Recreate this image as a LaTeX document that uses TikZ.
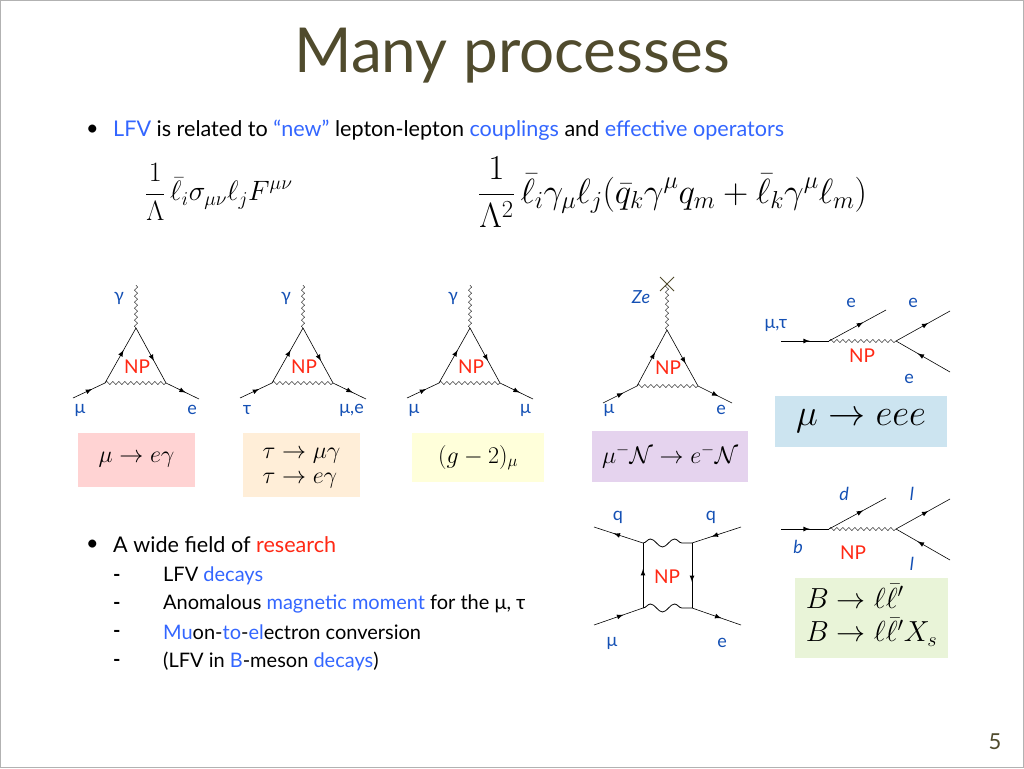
\documentclass[tikz,border=0pt]{standalone}
\usepackage{fix-cm}
\usepackage{fontspec}
\setmainfont{Lato}
\usetikzlibrary{decorations.pathmorphing,decorations.markings}
\definecolor{ttl}{RGB}{80,75,45}
\definecolor{lb}{RGB}{51,102,255}
\definecolor{db}{RGB}{20,80,180}
\definecolor{nr}{RGB}{255,40,20}
\tikzset{
 fer/.style={semithick,postaction={decorate},decoration={markings,mark=at position 0.6 with {\arrow[scale=1.4]{latex}}}},
 pho/.style={decorate,decoration={snake,amplitude=1.6pt,segment length=6pt},thin},
 bigpho/.style={thick,decorate,decoration={snake,amplitude=4pt,segment length=24pt}},
 lab/.style={text=db,font=\fontsize{18}{18}\selectfont,inner sep=0},
 np/.style={text=nr,font=\fontsize{19}{19}\selectfont,inner sep=0},
 bx/.style={minimum height=#1,inner sep=0,font=\fontsize{24}{28}\selectfont},
 txt/.style={anchor=west,inner sep=0,font=\fontsize{21.6}{21.6}\selectfont},
 stxt/.style={anchor=west,inner sep=0,font=\fontsize{20}{20}\selectfont},
}
\begin{document}
\begin{tikzpicture}[x=1pt,y=-1pt]
\useasboundingbox (0,0) rectangle (1024,768);
\draw[gray!60] (0.5,0.5) rectangle (1023.5,767.5);
\node[text=ttl,font=\fontsize{62}{62}\selectfont] (title) at (512,56) {Many processes};
\node[txt] (b1) at (86,130) {•};
\node[txt] (l1) at (113,130) {\textcolor{lb}{LFV} is related to \textcolor{lb}{“new”} lepton-lepton \textcolor{lb}{couplings} and \textcolor{lb}{effective operators}};
\node[anchor=west,inner sep=0,font=\fontsize{28}{28}\selectfont] (f1) at (145,192) {$\displaystyle\frac{1}{\Lambda}\,\bar\ell_i\sigma_{\mu\nu}\ell_jF^{\mu\nu}$};
\node[anchor=west,inner sep=0,font=\fontsize{35}{35}\selectfont] (f2) at (478,192) {$\displaystyle\frac{1}{\Lambda^2}\,\bar\ell_i\gamma_\mu\ell_j(\bar q_k\gamma^\mu q_m+\bar\ell_k\gamma^\mu\ell_m)$};
% triangles
\foreach \dx/\p/\ml/\rl in {0/A/{μ}/e, 167/B/{τ}/{μ,e}, 334/C/{μ}/{μ}}{
 \begin{scope}[xshift=\dx]
 \coordinate (\p t) at (136,328); \coordinate (\p l) at (105,383); \coordinate (\p r) at (166,383);
 \coordinate (\p a) at (73,398); \coordinate (\p b) at (199,399); \coordinate (\p g) at (136,285);
 \draw[fer] (\p a) -- (\p l); \draw[fer] (\p r) -- (\p b);
 \draw[fer] (\p l) -- (\p t); \draw[fer] (\p t) -- (\p r);
 \draw[pho] (\p l) -- (\p r); \draw[pho] (\p t) -- (\p g);
 \node[np] (\p np) at (137,367) {NP};
 \node[lab] (\p lg) at (119,298) {γ};
 \node[lab] (\p lm) at (80,410) {\ml};
 \node[lab,anchor=east] (\p le) at (197,410) {\rl};
 \end{scope}}
% conversion
\coordinate (Dt) at (667,330); \coordinate (Dl) at (637,386); \coordinate (Dr) at (698,386);
\coordinate (Da) at (603,403); \coordinate (Db) at (732,403); \coordinate (Dg) at (667,284);
\draw[fer] (Da) -- (Dl); \draw[fer] (Dr) -- (Db);
\draw[fer] (Dl) -- (Dt); \draw[fer] (Dt) -- (Dr);
\draw[pho] (Dl) -- (Dr); \draw[pho] (Dt) -- (Dg);
\draw[thick,ttl] (660,277) -- (674,291) (674,277) -- (660,291);
\node[np] (Dnp) at (668,368) {NP};
\node[lab] (Dze) at (641,297) {\itshape Ze};
\node[lab] (Dlm) at (609,410) {μ};
\node[lab] (Dle) at (721,410) {e};
% boxes
\node[bx=54pt,fill={rgb,255:red,255;green,211;blue,211},minimum width=117pt] (x1) at (136.5,460) {$\mu\to e\gamma$};
\node[bx=64pt,fill={rgb,255:red,255;green,238;blue,216},minimum width=117pt] (x2) at (301.5,465) {$\begin{array}{l}\tau\to\mu\gamma\\[-3pt] \tau\to e\gamma\end{array}$};
\node[bx=49pt,fill={rgb,255:red,255;green,255;blue,218},minimum width=132pt] (x3) at (478,457.5) {$(g-2)_\mu$};
\node[bx=51pt,fill={rgb,255:red,229;green,211;blue,238},minimum width=156pt] (x4) at (670,456.5) {$\mu^-\mathcal N\to e^-\mathcal N$};
\node[bx=51pt,fill={rgb,255:red,204;green,228;blue,240},minimum width=172pt,font=\fontsize{37}{37}\selectfont] (x5) at (861,421.5) {$\mu\to eee$};
\node[bx=80pt,fill={rgb,255:red,233;green,244;blue,216},minimum width=153pt,font=\fontsize{29}{33}\selectfont] (x6) at (871.5,618) {$\begin{array}{l}B\to\ell\bar\ell'\\ B\to\ell\bar\ell'X_s\end{array}$};
% mu -> eee
\foreach \dy/\p in {0/E,188/F}{
\begin{scope}[shift={(0,\dy)}]
\coordinate (\p0) at (781,341); \coordinate (\p1) at (829,341); \coordinate (\p2) at (896,341);
\coordinate (\p3) at (886,310); \coordinate (\p4) at (950,311); \coordinate (\p5) at (950,372);
\draw[fer] (\p0) -- (\p1); \draw[fer] (\p1) -- (\p3); \draw[fer] (\p2) -- (\p4); \draw[fer] (\p5) -- (\p2);
\draw[pho] (\p1) -- (\p2);
\end{scope}}
\node[lab] (Emt) at (776,325) {μ,τ};
\node[lab] (Ee1) at (851,303) {e};
\node[lab] (Ee2) at (913,303) {e};
\node[lab] (Ee3) at (909,379) {e};
\node[np] (Enp) at (862,356) {NP};
\node[lab] (Fd) at (844,494) {\itshape d};
\node[lab] (Fl1) at (912,494) {\itshape l};
\node[lab] (Fb) at (798,547) {\itshape b};
\node[lab] (Fl2) at (912,564) {\itshape l};
\node[np] (Fnp) at (853,553) {NP};
% box diagram
\coordinate (G1) at (643,543); \coordinate (G2) at (692,543); \coordinate (G3) at (643,608); \coordinate (G4) at (692,608);
\coordinate (Ga) at (594,527); \coordinate (Gb) at (741,527); \coordinate (Gc) at (594,625); \coordinate (Gd) at (741,625);
\draw[fer] (G1) -- (Ga); \draw[fer] (Gb) -- (G2); \draw[fer] (G3) -- (G1); \draw[fer] (G2) -- (G4);
\draw[fer] (Gc) -- (G3); \draw[fer] (G4) -- (Gd);
\draw[bigpho] (G1) -- (G2); \draw[bigpho] (G3) -- (G4);
\node[np] (Gnp) at (667,577) {NP};
\node[lab] (Gq1) at (618,517) {q};
\node[lab] (Gq2) at (711,517) {q};
\node[lab] (Gm) at (612,643) {μ};
\node[lab] (Ge) at (722,643) {e};
% bullets 2
\node[txt] (b2) at (86,545) {•};
\node[txt] (l2) at (113,545) {A wide field of \textcolor{nr}{research}};
\foreach \y/\t [count=\i] in {576/{LFV \textcolor{lb}{decays}},604/{Anomalous \textcolor{lb}{magnetic moment} for the μ, τ},632/{\textcolor{lb}{Mu}on-\textcolor{lb}{to}-\textcolor{lb}{el}ectron conversion},661/{(LFV in \textcolor{lb}{B}-meson \textcolor{lb}{decays})}}{
 \node[stxt] (d\i) at (113,\y+2) {\bfseries -};
 \node[stxt] (s\i) at (163,\y) {\t};
}
\node[text=ttl,font=\fontsize{22}{22}\selectfont] (pg) at (995,742) {5};
\end{tikzpicture}
\end{document}
